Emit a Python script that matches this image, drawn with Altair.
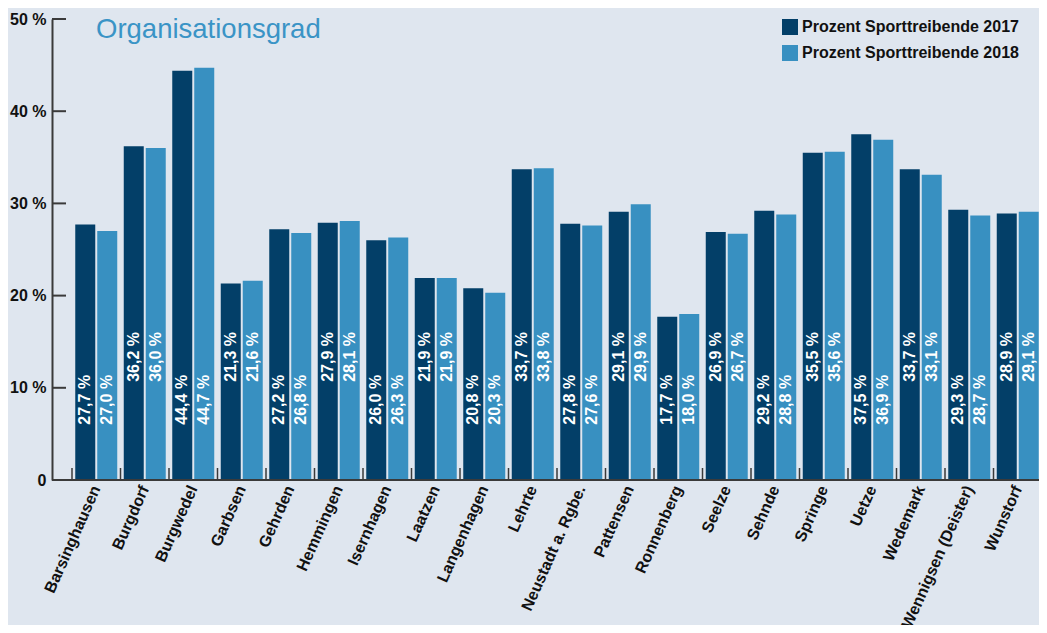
import altair as alt
import pandas as pd

cats = ["Barsinghausen", "Burgdorf", "Burgwedel", "Garbsen", "Gehrden", "Hemmingen",
        "Isernhagen", "Laatzen", "Langenhagen", "Lehrte", "Neustadt a. Rgbe.", "Pattensen",
        "Ronnenberg", "Seelze", "Sehnde", "Springe", "Uetze", "Wedemark",
        "Wennigsen (Deister)", "Wunstorf"]
v2017 = [27.7, 36.2, 44.4, 21.3, 27.2, 27.9, 26.0, 21.9, 20.8, 33.7, 27.8, 29.1,
         17.7, 26.9, 29.2, 35.5, 37.5, 33.7, 29.3, 28.9]
v2018 = [27.0, 36.0, 44.7, 21.6, 26.8, 28.1, 26.3, 21.9, 20.3, 33.8, 27.6, 29.9,
         18.0, 26.7, 28.8, 35.6, 36.9, 33.1, 28.7, 29.1]
series = ["Prozent Sporttreibende 2017", "Prozent Sporttreibende 2018"]
y_ticks = [0, 10, 20, 30, 40, 50]
title_text = "Organisationsgrad"

DARK = "#033f68"
LIGHT = "#3890c1"
BG = "#dfe6ef"
AXC = "#3a3a3a"
F = "Liberation Sans"

rows = []
for i, c in enumerate(cats):
    for s, vals in zip(series, [v2017, v2018]):
        v = vals[i]
        rows.append({"cat": c, "series": s, "value": v, "gi": i,
                     "label": f"{v:.1f}".replace(".", ",") + " %"})
df = pd.DataFrame(rows)

W, H = 987, 461

xscale = alt.Scale(range=[20, 990], paddingInner=0, paddingOuter=0)
xaxis = alt.Axis(domain=False, ticks=False, labelAngle=294, labelAlign="right",
                 labelBaseline="middle", labelPadding=6, labelFont=F,
                 labelFontSize=16, labelFontWeight="bold", labelColor="#111111",
                 labelLimit=300)
xoff = alt.XOffset("series:N", sort=series,
                   scale=alt.Scale(paddingInner=0.0909, paddingOuter=0.148))
yscale = alt.Scale(domain=[0, 50], nice=False)
yaxis = alt.Axis(values=y_ticks, grid=False, ticks=False, domainColor=AXC,
                 domainWidth=2, labelPadding=6, labelFont=F, labelFontSize=16,
                 labelFontWeight="bold", labelColor="#111111",
                 labelExpr="datum.value == 0 ? '0' : datum.value + ' %'")


def X(**kw):
    return alt.X("cat:N", sort=cats, scale=xscale, title=None, axis=xaxis, **kw)


def Y(field):
    return alt.Y(field, scale=yscale, title=None, axis=yaxis)


bars = alt.Chart(df).mark_bar().encode(
    x=X(),
    xOffset=xoff,
    y=Y("value:Q"),
    color=alt.Color("series:N", sort=series, title=None,
                    scale=alt.Scale(domain=series, range=[DARK, LIGHT]),
                    legend=alt.Legend(orient="none", legendX=730, legendY=0,
                                      symbolType="square", symbolSize=256,
                                      symbolStrokeWidth=0, symbolOpacity=1,
                                      labelFont=F, labelFontSize=16,
                                      labelFontWeight="bold", labelColor="#111111",
                                      labelOffset=4, rowPadding=10, padding=0,
                                      labelLimit=400)),
)

labels = alt.Chart(df).transform_calculate(
    lp="datum.gi % 2 == 0 ? 6 : 10.65"
).mark_text(angle=270, align="left", baseline="middle", color="white", font=F,
            fontSize=16, fontWeight="bold").encode(
    x=X(),
    xOffset=xoff,
    y=Y("lp:Q"),
    text="label:N",
)

baseline = alt.Chart(pd.DataFrame({"value": [0]})).mark_rule(color=AXC, strokeWidth=2).encode(
    x=alt.value(0), x2=alt.value(W), y=Y("value:Q"))

yt = alt.Chart(pd.DataFrame({"value": y_ticks})).mark_rule(color=AXC, strokeWidth=2).encode(
    y=Y("value:Q"), x=alt.value(0), x2=alt.value(14))

xt = alt.Chart(pd.DataFrame({"cat": cats})).mark_rule(color=AXC, strokeWidth=1.5).encode(
    x=X(bandPosition=0),
    y=alt.value(H - 12), y2=alt.value(H))

ttl = alt.Chart(pd.DataFrame({"t": [title_text]})).mark_text(
    align="left", baseline="alphabetic", font=F, fontSize=27.5, color="#3a94c6").encode(
    text="t:N", x=alt.value(44), y=alt.value(19))

chart = alt.layer(bars, labels, baseline, yt, xt, ttl).properties(
    width=W, height=H,
    padding={"left": 44, "top": 11, "right": 0, "bottom": 145},
    autosize=alt.AutoSizeParams(type="none"),
).configure(background=BG).configure_view(strokeWidth=0)

chart.save("out.html", embed_options={"renderer": "svg", "actions": False})
